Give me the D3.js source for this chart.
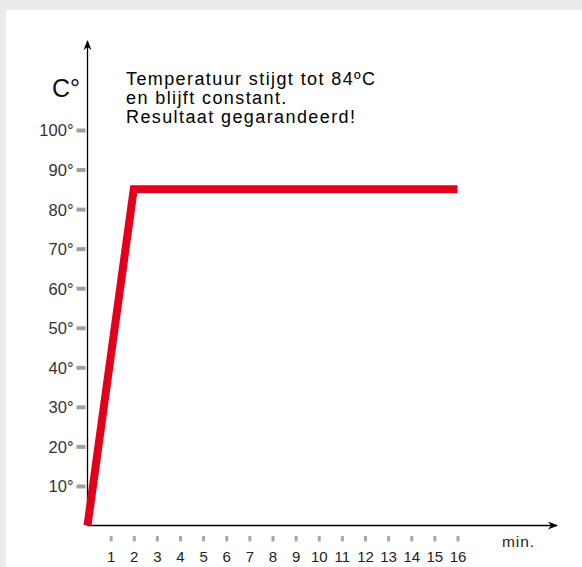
<!DOCTYPE html>
<html><head><meta charset="utf-8">
<script src="https://cdn.jsdelivr.net/npm/d3@7"></script>
<style>
html,body{margin:0;padding:0;background:#ebebeb;}
svg{display:block;}
</style></head>
<body>
<svg id="chart" width="582" height="567"></svg>
<script>
const minutes = [0, 2, 16];
const temps = [0, 85, 85];
const xTicks = [1,2,3,4,5,6,7,8,9,10,11,12,13,14,15,16];
const yTicks = [10,20,30,40,50,60,70,80,90,100];
const titleLines = ["Temperatuur stijgt tot 84ºC", "en blijft constant.", "Resultaat gegarandeerd!"];

const svg = d3.select("#chart");
svg.append("rect").attr("x",6).attr("y",10).attr("width",576).attr("height",557).attr("fill","#fff");

const x = d3.scaleLinear().domain([0,16]).range([87.5, 457.5]);
const y = d3.scaleLinear().domain([0,100]).range([525.5, 130]);
const font = "'Liberation Sans', Arial, Helvetica, sans-serif";

const defs = svg.append("defs");
defs.append("marker").attr("id","arr").attr("viewBox","0 0 10 10").attr("refX",9).attr("refY",5)
  .attr("markerWidth",10).attr("markerHeight",10).attr("markerUnits","userSpaceOnUse").attr("orient","auto")
  .append("path").attr("d","M0,1 L10,5 L0,9 L3,5 Z").attr("fill","#000");

// Y axis ticks (gray marks)
const yAxis = d3.axisLeft(y).tickValues(yTicks).tickSize(0).tickPadding(0).tickFormat(d => d + "°");
const gy = svg.append("g").attr("transform","translate(85.5,0)").call(yAxis);
gy.select(".domain").remove();
gy.selectAll(".tick").append("line").attr("x1",-9).attr("x2",0).attr("y1",0).attr("y2",0)
  .attr("stroke","#a0a0a0").attr("stroke-width",4);
gy.selectAll(".tick text").attr("x",-12).attr("dy","0.36em").attr("fill","#333")
  .style("font-family",font).style("font-size","16.5px");

// X axis ticks
const xAxis = d3.axisBottom(x).tickValues(xTicks).tickSize(0).tickPadding(0).tickFormat(d => d);
const gx = svg.append("g").attr("transform","translate(0,536)").call(xAxis);
gx.select(".domain").remove();
gx.selectAll(".tick").append("line").attr("x1",0).attr("x2",0).attr("y1",0).attr("y2",5.5)
  .attr("stroke","#a8a8a8").attr("stroke-width",3);
gx.selectAll(".tick text").attr("y",15).attr("dy","0.71em").attr("fill","#222")
  .style("font-family",font).style("font-size","15px");

// axis lines with arrows
svg.append("line").attr("x1",x(0)).attr("y1",y(0)).attr("x2",x(0)).attr("y2",41)
  .attr("stroke","#000").attr("stroke-width",1.3).attr("marker-end","url(#arr)");
svg.append("line").attr("x1",x(0)).attr("y1",y(0)).attr("x2",557).attr("y2",y(0))
  .attr("stroke","#000").attr("stroke-width",1.3).attr("marker-end","url(#arr)");

// red line
const line = d3.line().x((d,i)=>x(minutes[i])).y((d,i)=>y(temps[i]));
svg.append("path").datum(temps).attr("d",line).attr("fill","none")
  .attr("stroke","#e2001a").attr("stroke-width",8).attr("stroke-linejoin","miter").attr("stroke-linecap","butt");

// labels
svg.append("text").attr("x",52).attr("y",97).text("C°").attr("fill","#111")
  .style("font-family",font).style("font-size","25px");
svg.append("text").attr("x",502).attr("y",547).text("min.").attr("fill","#222")
  .style("font-family",font).style("font-size","15.5px").style("letter-spacing","0.9px");
const t = svg.append("text").attr("fill","#000").style("font-family",font).style("font-size","18px")
  .style("letter-spacing","1.4px");
titleLines.forEach((s,i)=>t.append("tspan").attr("x",126).attr("y",85+i*19).text(s));
</script>
</body></html>
